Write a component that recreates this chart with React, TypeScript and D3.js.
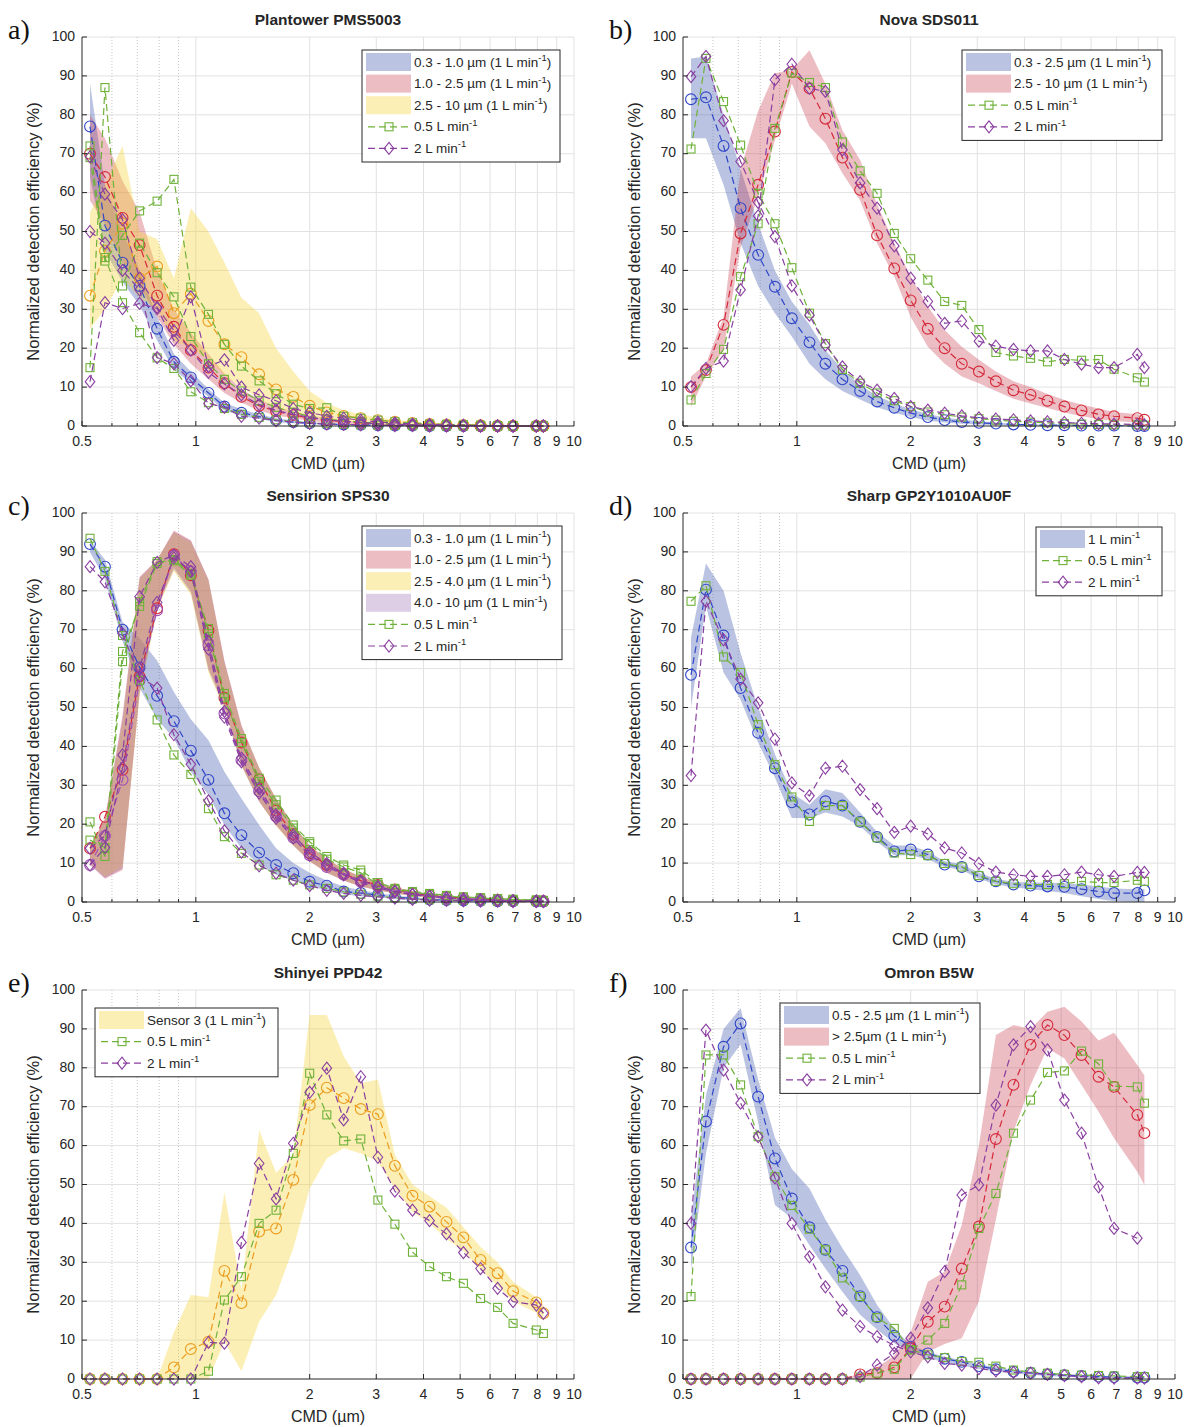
import React from "react";
import * as d3 from "d3";

// particle size bins (CMD, µm) shared by all panels
const CMD = [0.525, 0.575, 0.64, 0.71, 0.79, 0.875, 0.97, 1.08, 1.19, 1.32, 1.47, 1.63, 1.81, 2.0, 2.22, 2.46, 2.73, 3.03, 3.36, 3.74, 4.15, 4.6, 5.1, 5.66, 6.28, 6.9, 7.95, 8.3];

const X_TICKS = [0.5, 1, 2, 3, 4, 5, 6, 7, 8, 9, 10];
const X_MINOR = [0.6, 0.7, 0.8, 0.9];
const Y_TICKS = [0, 10, 20, 30, 40, 50, 60, 70, 80, 90, 100];

// a) Plantower PMS5003
const PMS_PM1 = [77, 51.5, 42, 36, 25, 16.5, 12.5, 8.5, 5, 3.4, 2.4, 1.5, 1, 0.7, 0.5, 0.4, 0.3, 0.2, 0.1, 0.1, 0, 0, 0, 0, 0, 0, 0, 0];
const PMS_PM1_LO = [64, 45, 37, 31, 22, 14.5, 11, 7.5, 4, 2.6, 1.8, 1, 0.7, 0.5, 0.3, 0.2, 0.1, 0.1, 0, 0, 0, 0, 0, 0, 0, 0, 0, 0];
const PMS_PM1_HI = [88, 62, 50, 40, 28, 18.5, 14, 9.5, 6, 4.3, 3, 2, 1.4, 1, 0.7, 0.5, 0.4, 0.3, 0.2, 0.1, 0.1, 0.1, 0, 0, 0, 0, 0, 0];
const PMS_PM25 = [70, 64, 53.5, 46.5, 33.5, 25.5, 19.5, 15, 11, 7.5, 5.2, 3.8, 2.8, 2, 1.5, 1.1, 0.8, 0.6, 0.4, 0.3, 0.2, 0.1, 0.1, 0, 0, 0, 0, 0];
const PMS_PM25_LO = [58, 52, 42, 36, 28, 21, 16, 12, 8.5, 6, 4, 2.7, 2, 1.3, 0.9, 0.6, 0.4, 0.3, 0.2, 0.1, 0.1, 0, 0, 0, 0, 0, 0, 0];
const PMS_PM25_HI = [80, 74, 63, 55, 40, 30, 24, 18.5, 13.5, 9.5, 6.8, 5, 3.7, 2.7, 2, 1.5, 1.1, 0.8, 0.6, 0.4, 0.3, 0.2, 0.2, 0.1, 0.1, 0, 0, 0];
const PMS_PM10 = [33.5, 45, 52, 38, 41, 29, 34, 27, 21, 17.7, 13.3, 9.4, 7.5, 5.2, 3.5, 2.6, 2, 1.5, 1.1, 0.8, 0.5, 0.4, 0.3, 0.2, 0.1, 0.1, 0, 0];
const PMS_PM10_LO = [25, 30, 38, 33, 30, 22, 20, 17, 13, 10, 7, 4.5, 3.5, 2.5, 1.7, 1.2, 0.9, 0.6, 0.4, 0.3, 0.2, 0.1, 0.1, 0, 0, 0, 0, 0];
const PMS_PM10_HI = [55, 62, 72, 50, 48, 38, 56, 50, 42, 33, 29, 20, 14, 9, 6, 4, 3, 2.2, 1.6, 1.1, 0.8, 0.6, 0.4, 0.3, 0.2, 0.1, 0.1, 0.1];
const PMS_G_PM1 = [72, 43.3, 31.7, 24, 17.5, 14.8, 8.8, 6, 4.5, 3, 2.2, 1.6, 1.1, 0.8, 0.6, 0.4, 0.3, 0.2, 0.1, 0.1, 0, 0, 0, 0, 0, 0, 0, 0];
const PMS_G_PM25 = [15, 87, 36, 47, 39.4, 33.2, 23, 16, 12, 9, 6.5, 4.8, 3.5, 2.5, 1.8, 1.3, 1, 0.7, 0.5, 0.3, 0.2, 0.1, 0.1, 0, 0, 0, 0, 0];
const PMS_G_PM10 = [69, 42.4, 49, 55.3, 57.8, 63.4, 35.7, 28.7, 21, 15.4, 11.6, 8.3, 5.6, 4.5, 4.7, 2.5, 2, 1.5, 1.1, 0.8, 0.5, 0.4, 0.3, 0.2, 0.1, 0.1, 0, 0];
const PMS_P_PM1 = [50, 47, 40, 35, 17.6, 16, 11.6, 5.8, 4.8, 2.5, 2, 1.4, 1, 0.7, 0.5, 0.4, 0.3, 0.2, 0.1, 0.1, 0, 0, 0, 0, 0, 0, 0, 0];
const PMS_P_PM25 = [69.2, 59.6, 53, 38, 30.5, 24.5, 19.5, 13.8, 10.8, 8, 5.5, 4, 3, 2.2, 1.6, 1.2, 0.9, 0.6, 0.4, 0.3, 0.2, 0.1, 0.1, 0, 0, 0, 0, 0];
const PMS_P_PM10 = [11.4, 31.7, 30.2, 31.5, 30.2, 22, 33.2, 15.3, 17, 10, 8, 6.5, 4.5, 3.5, 2.5, 2, 1.5, 1, 0.8, 0.5, 0.4, 0.3, 0.2, 0.1, 0.1, 0, 0, 0];

// b) Nova SDS011
const SDS_PM25 = [84, 84.5, 72, 56, 44, 35.8, 27.7, 21.5, 16, 12, 9, 6.3, 4.7, 3.3, 2.3, 1.5, 1, 0.8, 0.6, 0.4, 0.3, 0.2, 0.2, 0.1, 0.1, 0.1, 0, 0];
const SDS_PM25_LO = [74, 74, 62, 47, 36, 29, 23, 16, 12, 9, 6.8, 4.8, 3.4, 2.3, 1.4, 0.9, 0.6, 0.4, 0.2, 0.1, 0.1, 0, 0, 0, 0, 0, 0, 0];
const SDS_PM25_HI = [94.5, 95, 80, 66, 52, 40, 32, 26, 19.5, 14.5, 10.5, 7.8, 5.8, 4.3, 3.1, 2.2, 1.6, 1.2, 0.9, 0.6, 0.4, 0.3, 0.2, 0.2, 0.1, 0.1, 0.1, 0.1];
const SDS_PM10 = [10, 14.4, 26, 49.5, 62, 75.7, 91, 86.8, 79, 69, 60.7, 49, 40.5, 32.3, 25, 20, 16, 14, 11.5, 9.2, 8, 6.5, 5, 4, 3, 2.5, 2, 1.6];
const SDS_PM10_LO = [5, 12.7, 19.5, 46, 59, 73.5, 88, 77, 72.7, 65, 58, 47, 38.4, 28, 20.4, 16, 12.7, 11, 9, 7, 5.8, 4.6, 3.5, 2.5, 1.8, 1.3, 0.9, 0.6];
const SDS_PM10_HI = [12.7, 16, 28, 66, 81, 90.7, 91.5, 96.6, 88, 76, 68.4, 57, 47, 38.4, 30.7, 24.7, 20.4, 17, 14, 11.5, 10, 8.2, 6.7, 5.5, 4.5, 3.6, 3, 2.5];
const SDS_G_PM25 = [71.2, 94.5, 83.4, 72.2, 59.8, 52, 40.7, 29, 21.2, 14.5, 11, 8.5, 6.5, 5, 3.6, 2.9, 2.3, 1.9, 1.5, 1.2, 1, 0.8, 0.6, 0.5, 0.4, 0.3, 0.3, 0.2];
const SDS_G_PM10 = [6.7, 13.5, 19.7, 38.4, 52, 76.5, 90.7, 88.3, 87, 73, 65.6, 59.8, 49.5, 43, 37.5, 32, 31, 24.8, 18.9, 18, 17.4, 16.5, 17.1, 16.9, 17.1, 14.6, 12.4, 11.3];
const SDS_P_PM25 = [89.8, 95, 78.5, 68, 57.5, 48.7, 36, 28.5, 20.8, 15.2, 11.4, 9.2, 7.1, 5, 4.1, 3.3, 2.6, 2.1, 1.8, 1.6, 1.3, 1.1, 0.9, 0.7, 0.6, 0.5, 0.4, 0.3];
const SDS_P_PM10 = [10.1, 14.8, 16.7, 35, 54, 89, 93, 86.8, 86, 71, 62.5, 56, 46.3, 38, 32, 26.4, 27, 21.8, 20.5, 19.7, 19.3, 19.3, 17.1, 15.9, 15, 15, 18.4, 15];

// c) Sensirion SPS30
const SPS_PM1 = [92, 86.2, 70, 60.3, 53, 46.5, 38.9, 31.4, 22.8, 17.2, 12.7, 9.5, 7.4, 5.2, 4.2, 2.7, 2.3, 1.8, 1.3, 0.9, 0.6, 0.5, 0.4, 0.3, 0.2, 0.2, 0.1, 0.1];
const SPS_PM1_LO = [90, 83, 67, 55, 47, 42, 33.5, 27.5, 19.8, 13.8, 9.5, 7, 5.5, 4, 3, 2, 1.5, 1.2, 0.8, 0.5, 0.3, 0.2, 0.2, 0.1, 0.1, 0, 0, 0];
const SPS_PM1_HI = [93, 88, 72, 67.8, 62, 54, 47, 41.6, 33.5, 26.6, 19.8, 13.8, 10, 7.5, 5.5, 4, 3, 2.3, 1.7, 1.2, 0.9, 0.7, 0.5, 0.4, 0.3, 0.2, 0.2, 0.2];
const SPS_PM25 = [13.8, 21.9, 34, 58, 75.5, 89.4, 84, 69.8, 52.5, 41, 31.5, 23.5, 17.5, 12.5, 9.5, 7.2, 5.5, 4.4, 3.2, 2.3, 1.7, 1.3, 1, 0.8, 0.6, 0.4, 0.3, 0.2];
const SPS_PM25_LO = [9.5, 6, 8.2, 54, 76, 86, 80, 60, 50.6, 35.2, 25.8, 19.8, 14.6, 10.5, 7.5, 5.5, 4, 3, 2.2, 1.6, 1.1, 0.8, 0.5, 0.4, 0.3, 0.2, 0.1, 0.1];
const SPS_PM25_HI = [14, 21.5, 48, 83.6, 88, 95.5, 93, 83, 62, 45.5, 34.5, 26.6, 19.8, 14.5, 11, 8.5, 6.5, 5, 3.8, 2.8, 2, 1.6, 1.2, 1, 0.8, 0.6, 0.5, 0.4];
const SPS_PM4_LO = [10, 6.5, 9, 53, 75, 85, 79, 59, 49.5, 35, 26, 19.5, 14.5, 10.5, 7.5, 5.5, 4, 3, 2.2, 1.6, 1.1, 0.8, 0.5, 0.4, 0.3, 0.2, 0.1, 0.1];
const SPS_PM4_HI = [14.5, 21, 46, 83, 88, 95, 92.5, 82.5, 61.5, 45, 34.5, 26.5, 19.8, 14.5, 11, 8.5, 6.5, 5, 3.8, 2.8, 2, 1.6, 1.2, 1, 0.8, 0.6, 0.5, 0.4];
const SPS_PM10_LO = [9.8, 6.2, 8.6, 53.5, 75.5, 85.5, 79.5, 59.5, 50, 35, 25.9, 19.7, 14.5, 10.5, 7.5, 5.5, 4, 3, 2.2, 1.6, 1.1, 0.8, 0.5, 0.4, 0.3, 0.2, 0.1, 0.1];
const SPS_PM10_HI = [14.2, 21.2, 47, 83.3, 88, 95.2, 92.8, 82.8, 61.8, 45.2, 34.5, 26.5, 19.8, 14.5, 11, 8.5, 6.5, 5, 3.8, 2.8, 2, 1.6, 1.2, 1, 0.8, 0.6, 0.5, 0.4];
const SPS_PM10 = [9.5, 17, 31.4, 57, 75, 89, 85, 66, 48.5, 36.5, 28.5, 22, 16.5, 12, 9, 7, 5.2, 4, 3, 2.2, 1.6, 1.2, 0.9, 0.7, 0.5, 0.4, 0.3, 0.2];
const SPS_G_PM1 = [93.5, 85, 68.5, 57, 46.8, 37.8, 32.8, 24, 16.8, 12.5, 9.5, 7, 5.6, 4.4, 3.5, 2.6, 2, 1.5, 1.1, 0.8, 0.6, 0.5, 0.4, 0.3, 0.2, 0.2, 0.1, 0.1];
const SPS_G_PM25 = [20.6, 11.7, 61.8, 77.2, 87.5, 87.7, 84, 70.3, 53.6, 42, 31.8, 26.2, 19.8, 15.5, 11.7, 9.5, 8.2, 5, 3.5, 2.7, 2.2, 1.7, 1.3, 1.1, 0.9, 0.7, 0.5, 0.4];
const SPS_G_PM10 = [15.9, 14, 64.4, 76, 87, 88, 84.5, 69, 52.5, 41, 31, 25, 19, 15, 11, 9, 7.5, 4.5, 3.2, 2.5, 2, 1.5, 1.2, 1, 0.8, 0.6, 0.5, 0.4];
const SPS_P_PM1 = [86.2, 82.3, 69, 58, 55, 43, 35.4, 26, 18.3, 12.8, 9.3, 7.4, 5.6, 4.2, 3, 2.2, 1.7, 1.3, 1, 0.7, 0.5, 0.4, 0.3, 0.2, 0.2, 0.1, 0.1, 0.1];
const SPS_P_PM25 = [13.8, 17, 37.8, 78.5, 87.3, 89.2, 86.2, 67, 49, 37, 29.2, 22.4, 17.2, 12.8, 9.9, 7.4, 5.5, 4, 2.8, 2, 1.5, 1.1, 0.8, 0.6, 0.4, 0.3, 0.3, 0.2];
const SPS_P_PM10 = [9.5, 14, 34.5, 60, 77, 88.5, 85, 65, 47.5, 36, 28, 21.5, 16.5, 12, 9.5, 7, 5, 3.6, 2.6, 1.9, 1.4, 1, 0.7, 0.5, 0.4, 0.3, 0.2, 0.2];

// d) Sharp GP2Y1010AU0F
const GP2_1L = [58.4, 80.3, 68.5, 55, 43.5, 34.4, 25.6, 22.5, 25.9, 24.8, 20.6, 16.7, 13, 13.5, 12.2, 9.6, 9, 6.6, 5.3, 4.5, 4.2, 4, 3.9, 3.3, 2.7, 2.3, 2.3, 3];
const GP2_1L_LO = [50, 76, 59, 52, 41, 32, 21.6, 21.5, 23, 22, 19.5, 15.5, 12, 12, 11, 9, 8.2, 6, 4.5, 3.8, 3.3, 2.8, 2.3, 1.5, 0.8, 0.2, 0, 0];
const GP2_1L_HI = [68, 87, 80, 64, 50, 38, 28, 25, 29, 28, 23, 18, 14.5, 14.5, 13, 10.5, 9.8, 7.5, 6, 5.2, 5, 5, 4.8, 4.5, 4, 3.5, 3.3, 3.3];
const GP2_05L = [77.3, 81.3, 63, 59, 45.6, 35.3, 27, 20.7, 24.8, 24.8, 20.6, 16.5, 12.6, 12.2, 11.9, 9.9, 9, 6.8, 5.3, 4.7, 4.5, 4.5, 4.7, 5.3, 5, 5, 5.6, 5.3];
const GP2_2L = [32.5, 77.3, 67.4, 57.3, 51.2, 41.9, 30.6, 27.3, 34.4, 34.9, 28.9, 24, 17.9, 19.5, 17.5, 13.9, 12.6, 9.9, 7.7, 7, 6.6, 6.6, 7, 7.7, 7, 6.6, 7.6, 7.6];

// e) Shinyei PPD42
const PPD_S3 = [0, 0, 0, 0, 0, 3, 7.7, 9.6, 27.8, 19.5, 37.9, 38.7, 51.2, 70.4, 74.9, 72.2, 69.4, 68.1, 54.8, 47.1, 44.3, 40.4, 36.4, 30.6, 27.2, 22.6, 19.7, 16.9];
const PPD_S3_LO = [0, 0, 0, 0, 0, 0, 0, 0, 9.6, 2, 14.7, 21.6, 33.6, 49, 56.7, 59.3, 58, 55.9, 49, 43, 40, 36, 33, 28, 24, 20, 17, 15];
const PPD_S3_HI = [0, 0, 0, 0, 0, 12, 21.6, 21, 48, 23, 64, 53, 57.6, 93.6, 93.6, 83, 76, 77, 57.6, 50, 47, 44, 39, 34, 30, 25, 21, 19];
const PPD_05L = [0, 0, 0, 0, 0, 0, 0, 2, 20.3, 26.3, 40, 43.4, 58, 78.6, 67.9, 61.2, 61.7, 46, 39.8, 32.6, 28.9, 26.3, 24.6, 20.7, 18.4, 14.3, 12.6, 11.7];
const PPD_2L = [0, 0, 0, 0, 0, 0, 0, 9.4, 9.2, 35.1, 55.4, 46.3, 60.6, 73.7, 79.9, 66.6, 77.7, 57, 48.3, 43.4, 40.7, 37.3, 32.5, 28.4, 23.3, 19.9, 19, 16.9];

// f) Omron B5W
const B5W_PM25 = [33.8, 66.2, 85.4, 91.4, 72.6, 56.7, 46.4, 39, 33.2, 27.8, 21.3, 15.9, 11.1, 8.3, 6.6, 5.2, 4.4, 3.3, 2.5, 1.9, 1.6, 1.2, 1, 0.8, 0.6, 0.5, 0.4, 0.4];
const B5W_PM25_LO = [28, 58, 80, 86, 66, 44.7, 41.3, 34.4, 28.4, 22.4, 16.5, 12.7, 9.2, 7, 5.4, 4.3, 3.5, 2.6, 1.9, 1.4, 1.1, 0.8, 0.6, 0.4, 0.3, 0.2, 0.2, 0.2];
const B5W_PM25_HI = [41, 73, 90, 95.3, 77, 62, 54, 49, 41, 33.6, 26.7, 19, 13, 8.7, 7, 5.7, 4.8, 3.8, 3, 2.4, 1.9, 1.5, 1.2, 1, 0.8, 0.6, 0.5, 0.5];
const B5W_PM10 = [0, 0, 0, 0, 0, 0, 0, 0, 0, 0, 1.2, 1.5, 3, 7.9, 14.7, 18.6, 28.4, 39.2, 61.7, 75.6, 85.9, 91, 88.4, 83.3, 77.7, 75.1, 67.9, 63.2];
const B5W_PM10_LO = [0, 0, 0, 0, 0, 0, 0, 0, 0, 0, 0, 0, 0, 0, 7, 9, 10.5, 20, 41, 63.6, 75.6, 85, 82.4, 75.6, 68.7, 61.9, 53.3, 49.9];
const B5W_PM10_HI = [0, 0, 0, 0, 0, 0, 0, 0, 0, 0, 1.5, 3, 6, 12, 25, 27.6, 39.6, 60, 88.4, 91, 90, 94.4, 95.7, 91.9, 87, 89, 80.7, 78];
const B5W_G_PM25 = [21.2, 83.3, 83.3, 75.6, 62.3, 52, 44.6, 38.5, 33.2, 26, 21.2, 15.8, 13, 7.5, 6.2, 5.5, 4.5, 4.3, 3.3, 2.3, 1.8, 1.5, 1.2, 1, 0.9, 0.8, 0.6, 0.6];
const B5W_G_PM10 = [0, 0, 0, 0, 0, 0, 0, 0, 0, 0, 0.5, 1.5, 2.5, 7.5, 10, 14.3, 24.2, 38.7, 47.7, 63.2, 71.7, 78.8, 79.2, 84.3, 81, 75.3, 75.1, 70.9];
const B5W_P_PM25 = [40, 89.7, 79.4, 70.9, 62.3, 51.7, 40, 31.4, 23.7, 17.7, 13.5, 10.9, 8.6, 7, 5.7, 4, 3.6, 2.7, 2.1, 1.7, 1.5, 1.2, 0.9, 0.6, 0.3, 0.2, 0.2, 0.2];
const B5W_P_PM10 = [0, 0, 0, 0, 0, 0, 0, 0, 0, 0, 0.6, 3.6, 6.6, 10.5, 18.3, 27.6, 47.3, 49.9, 70.4, 85.9, 90.6, 84.6, 71.7, 63.2, 49.4, 38.7, 36.2, null];

const BLUE = "#3046c8";
const RED = "#d42a3a";
const ORANGE = "#eb9c1e";
const GREEN = "#6fb23a";
const PURPLE = "#8a3fa0";
const PURPLE_C = "#a050b8";

const BAND = {
  blue: { fill: "#4a62b0", op: 0.38 },
  red: { fill: "#c8374d", op: 0.33 },
  yellow: { fill: "#f5d02a", op: 0.35 },
  purple: { fill: "#8f5aa8", op: 0.3 },
};

const FONT = "Arial, 'Liberation Sans', Helvetica, sans-serif";
const INK = "#262626";
const YLAB = "Normalized detection efficiency (%)";

type BandKey = keyof typeof BAND;
type Mk = "o" | "s" | "d";

const PANELS = [
  {
    letter: "a)", title: "Plantower PMS5003", ylabel: YLAB, col: 0, row: 0,
    bands: [
      { lo: PMS_PM1_LO, hi: PMS_PM1_HI, b: "blue" },
      { lo: PMS_PM25_LO, hi: PMS_PM25_HI, b: "red" },
      { lo: PMS_PM10_LO, hi: PMS_PM10_HI, b: "yellow" },
    ],
    series: [
      { y: PMS_PM1, c: BLUE, m: "o" }, { y: PMS_PM25, c: RED, m: "o" }, { y: PMS_PM10, c: ORANGE, m: "o" },
      { y: PMS_G_PM1, c: GREEN, m: "s" }, { y: PMS_G_PM25, c: GREEN, m: "s" }, { y: PMS_G_PM10, c: GREEN, m: "s" },
      { y: PMS_P_PM1, c: PURPLE, m: "d" }, { y: PMS_P_PM25, c: PURPLE, m: "d" }, { y: PMS_P_PM10, c: PURPLE, m: "d" },
    ],
    legend: {
      x: 362, y: 50, w: 198, items: [
        { b: "blue", pre: "0.3 - 1.0 µm (1 L min", post: ")" },
        { b: "red", pre: "1.0 - 2.5 µm (1 L min", post: ")" },
        { b: "yellow", pre: "2.5 - 10 µm (1 L min", post: ")" },
        { c: GREEN, m: "s", pre: "0.5 L min", post: "" },
        { c: PURPLE, m: "d", pre: "2 L min", post: "" },
      ],
    },
  },
  {
    letter: "b)", title: "Nova SDS011", ylabel: YLAB, col: 1, row: 0,
    bands: [
      { lo: SDS_PM25_LO, hi: SDS_PM25_HI, b: "blue" },
      { lo: SDS_PM10_LO, hi: SDS_PM10_HI, b: "red" },
    ],
    series: [
      { y: SDS_PM25, c: BLUE, m: "o" }, { y: SDS_PM10, c: RED, m: "o" },
      { y: SDS_G_PM25, c: GREEN, m: "s" }, { y: SDS_G_PM10, c: GREEN, m: "s" },
      { y: SDS_P_PM25, c: PURPLE, m: "d" }, { y: SDS_P_PM10, c: PURPLE, m: "d" },
    ],
    legend: {
      x: 962, y: 50, w: 200, items: [
        { b: "blue", pre: "0.3 - 2.5 µm (1 L min", post: ")" },
        { b: "red", pre: "2.5 - 10 µm (1 L min", post: ")" },
        { c: GREEN, m: "s", pre: "0.5 L min", post: "" },
        { c: PURPLE, m: "d", pre: "2 L min", post: "" },
      ],
    },
  },
  {
    letter: "c)", title: "Sensirion SPS30", ylabel: YLAB, col: 0, row: 1,
    bands: [
      { lo: SPS_PM1_LO, hi: SPS_PM1_HI, b: "blue" },
      { lo: SPS_PM25_LO, hi: SPS_PM25_HI, b: "red" },
      { lo: SPS_PM4_LO, hi: SPS_PM4_HI, b: "yellow" },
      { lo: SPS_PM10_LO, hi: SPS_PM10_HI, b: "purple" },
    ],
    series: [
      { y: SPS_PM1, c: BLUE, m: "o" }, { y: SPS_PM25, c: RED, m: "o" }, { y: SPS_PM10, c: PURPLE_C, m: "o" },
      { y: SPS_G_PM1, c: GREEN, m: "s" }, { y: SPS_G_PM25, c: GREEN, m: "s" }, { y: SPS_G_PM10, c: GREEN, m: "s" },
      { y: SPS_P_PM1, c: PURPLE, m: "d" }, { y: SPS_P_PM25, c: PURPLE, m: "d" }, { y: SPS_P_PM10, c: PURPLE, m: "d" },
    ],
    legend: {
      x: 362, y: 526, w: 200, items: [
        { b: "blue", pre: "0.3 - 1.0 µm (1 L min", post: ")" },
        { b: "red", pre: "1.0 - 2.5 µm (1 L min", post: ")" },
        { b: "yellow", pre: "2.5 - 4.0 µm (1 L min", post: ")" },
        { b: "purple", pre: "4.0 - 10 µm (1 L min", post: ")" },
        { c: GREEN, m: "s", pre: "0.5 L min", post: "" },
        { c: PURPLE, m: "d", pre: "2 L min", post: "" },
      ],
    },
  },
  {
    letter: "d)", title: "Sharp GP2Y1010AU0F", ylabel: YLAB, col: 1, row: 1,
    bands: [{ lo: GP2_1L_LO, hi: GP2_1L_HI, b: "blue" }],
    series: [
      { y: GP2_1L, c: BLUE, m: "o" }, { y: GP2_05L, c: GREEN, m: "s" }, { y: GP2_2L, c: PURPLE, m: "d" },
    ],
    legend: {
      x: 1036, y: 527, w: 126, items: [
        { b: "blue", pre: "1 L min", post: "" },
        { c: GREEN, m: "s", pre: "0.5 L min", post: "" },
        { c: PURPLE, m: "d", pre: "2 L min", post: "" },
      ],
    },
  },
  {
    letter: "e)", title: "Shinyei PPD42", ylabel: YLAB, col: 0, row: 2,
    bands: [{ lo: PPD_S3_LO, hi: PPD_S3_HI, b: "yellow" }],
    series: [
      { y: PPD_S3, c: ORANGE, m: "o" }, { y: PPD_05L, c: GREEN, m: "s" }, { y: PPD_2L, c: PURPLE, m: "d" },
    ],
    legend: {
      x: 95, y: 1008, w: 183, items: [
        { b: "yellow", pre: "Sensor 3 (1 L min", post: ")" },
        { c: GREEN, m: "s", pre: "0.5 L min", post: "" },
        { c: PURPLE, m: "d", pre: "2 L min", post: "" },
      ],
    },
  },
  {
    letter: "f)", title: "Omron B5W", ylabel: "Normalized detection efficinecy (%)", col: 1, row: 2,
    bands: [
      { lo: B5W_PM25_LO, hi: B5W_PM25_HI, b: "blue" },
      { lo: B5W_PM10_LO, hi: B5W_PM10_HI, b: "red" },
    ],
    series: [
      { y: B5W_PM25, c: BLUE, m: "o" }, { y: B5W_PM10, c: RED, m: "o" },
      { y: B5W_G_PM25, c: GREEN, m: "s" }, { y: B5W_G_PM10, c: GREEN, m: "s" },
      { y: B5W_P_PM25, c: PURPLE, m: "d" }, { y: B5W_P_PM10, c: PURPLE, m: "d" },
    ],
    legend: {
      x: 780, y: 1003, w: 200, items: [
        { b: "blue", pre: "0.5 - 2.5 µm (1 L min", post: ")" },
        { b: "red", pre: "> 2.5µm (1 L min", post: ")" },
        { c: GREEN, m: "s", pre: "0.5 L min", post: "" },
        { c: PURPLE, m: "d", pre: "2 L min", post: "" },
      ],
    },
  },
];

const COL_X = [[82, 574], [683, 1175]];
const ROW_Y = [[37, 426], [513, 902], [990, 1379]];

function Marker({ m, x, y, c }: { m: Mk; x: number; y: number; c: string }) {
  if (m === "o") return <circle cx={x} cy={y} r={5.4} fill="none" stroke={c} strokeWidth={1.1} />;
  if (m === "s") return <rect x={x - 4} y={y - 4} width={8} height={8} fill="none" stroke={c} strokeWidth={1.1} />;
  return <path d={`M${x},${y - 6}L${x + 4.8},${y}L${x},${y + 6}L${x - 4.8},${y}Z`} fill="none" stroke={c} strokeWidth={1.1} />;
}

function Label({ x, y, pre, post }: { x: number; y: number; pre: string; post: string }) {
  return (
    <text x={x} y={y} fontSize={13.5} fontFamily={FONT} fill={INK} dominantBaseline="middle">
      {pre}
      <tspan fontSize={9.5} dy={-5}>-1</tspan>
      <tspan dy={5}>{post}</tspan>
    </text>
  );
}

function Panel({ p }: { p: any }) {
  const [x0, x1] = COL_X[p.col];
  const [y0, y1] = ROW_Y[p.row];
  const xs = d3.scaleLog().domain([0.5, 10]).range([x0, x1]);
  const ys = d3.scaleLinear().domain([0, 100]).range([y1, y0]);
  const area = (lo: number[], hi: number[]) =>
    d3.area<number>().x((_, i) => xs(CMD[i])).y0((_, i) => ys(lo[i])).y1((_, i) => ys(hi[i]))(lo) || "";
  const line = d3.line<number | null>().defined((v) => v != null).x((_, i) => xs(CMD[i])).y((v) => ys(v as number));
  const lg = p.legend;
  const rowH = 21.6;

  return (
    <g>
      {/* grid */}
      {Y_TICKS.slice(1).map((t) => (
        <line key={"gy" + t} x1={x0} x2={x1} y1={ys(t)} y2={ys(t)} stroke="#e2e2e2" strokeWidth={1} />
      ))}
      {X_TICKS.slice(1).map((t) => (
        <line key={"gx" + t} x1={xs(t)} x2={xs(t)} y1={y0} y2={y1} stroke="#e2e2e2" strokeWidth={1} />
      ))}
      {X_MINOR.map((t) => (
        <line key={"gm" + t} x1={xs(t)} x2={xs(t)} y1={y0} y2={y1} stroke="#c4c4c4" strokeWidth={1} strokeDasharray="1,2" />
      ))}

      {/* bands */}
      {p.bands.map((b: any, i: number) => (
        <path key={"b" + i} d={area(b.lo, b.hi)} fill={BAND[b.b as BandKey].fill} fillOpacity={BAND[b.b as BandKey].op} stroke="none" />
      ))}

      {/* series */}
      {p.series.map((s: any, i: number) => (
        <g key={"s" + i}>
          <path d={line(s.y) || ""} fill="none" stroke={s.c} strokeWidth={1.2} strokeDasharray="7,4" />
          {s.y.map((v: number | null, j: number) =>
            v == null ? null : <Marker key={j} m={s.m} x={xs(CMD[j])} y={ys(v)} c={s.c} />
          )}
        </g>
      ))}

      {/* axes */}
      <line x1={x0} x2={x1} y1={y1} y2={y1} stroke={INK} strokeWidth={1} />
      <line x1={x0} x2={x0} y1={y0} y2={y1} stroke={INK} strokeWidth={1} />
      {X_TICKS.map((t) => (
        <g key={"xt" + t}>
          <line x1={xs(t)} x2={xs(t)} y1={y1} y2={y1 - 5} stroke={INK} />
          <text x={xs(t)} y={y1 + 16} fontSize={14} fontFamily={FONT} fill={INK} textAnchor="middle" dominantBaseline="middle">
            {String(t)}
          </text>
        </g>
      ))}
      {X_MINOR.map((t) => (
        <line key={"xm" + t} x1={xs(t)} x2={xs(t)} y1={y1} y2={y1 - 3} stroke={INK} />
      ))}
      {Y_TICKS.map((t) => (
        <g key={"yt" + t}>
          <line x1={x0} x2={x0 + 5} y1={ys(t)} y2={ys(t)} stroke={INK} />
          <text x={x0 - 7} y={ys(t)} fontSize={14} fontFamily={FONT} fill={INK} textAnchor="end" dominantBaseline="middle">
            {t}
          </text>
        </g>
      ))}

      {/* labels */}
      <text x={(x0 + x1) / 2} y={y0 - 12} fontSize={15.5} fontWeight="bold" fontFamily={FONT} fill={INK} textAnchor="middle">
        {p.title}
      </text>
      <text x={(x0 + x1) / 2} y={y1 + 43} fontSize={16} fontFamily={FONT} fill={INK} textAnchor="middle">
        CMD (µm)
      </text>
      <text transform={`translate(${x0 - 43},${(y0 + y1) / 2}) rotate(-90)`} fontSize={16.5} fontFamily={FONT} fill={INK} textAnchor="middle">
        {p.ylabel}
      </text>
      <text x={x0 - 74} y={y0 + 2} fontSize={28} fontFamily="'Liberation Serif', 'Times New Roman', serif" fill="#111">
        {p.letter}
      </text>

      {/* legend */}
      <rect x={lg.x} y={lg.y} width={lg.w} height={lg.items.length * rowH + 4} fill="#fff" stroke={INK} strokeWidth={1} />
      {lg.items.map((it: any, k: number) => {
        const cy = lg.y + 12 + k * rowH;
        const sx = lg.x + 4;
        return (
          <g key={"lg" + k}>
            {it.b ? (
              <rect x={sx} y={cy - 9} width={45} height={18} fill={BAND[it.b as BandKey].fill} fillOpacity={BAND[it.b as BandKey].op} />
            ) : (
              <g>
                <line x1={sx + 2} x2={sx + 45} y1={cy} y2={cy} stroke={it.c} strokeWidth={1.2} strokeDasharray="7,4" />
                <Marker m={it.m} x={sx + 23} y={cy} c={it.c} />
              </g>
            )}
            <Label x={lg.x + 52} y={cy + 1} pre={it.pre} post={it.post} />
          </g>
        );
      })}
    </g>
  );
}

export default function App() {
  return (
    <svg width={1186} height={1427} style={{ position: "absolute", left: 0, top: 0, background: "#fff" }}>
      <rect width={1186} height={1427} fill="#fff" />
      {PANELS.map((p, i) => (
        <Panel key={i} p={p} />
      ))}
    </svg>
  );
}
